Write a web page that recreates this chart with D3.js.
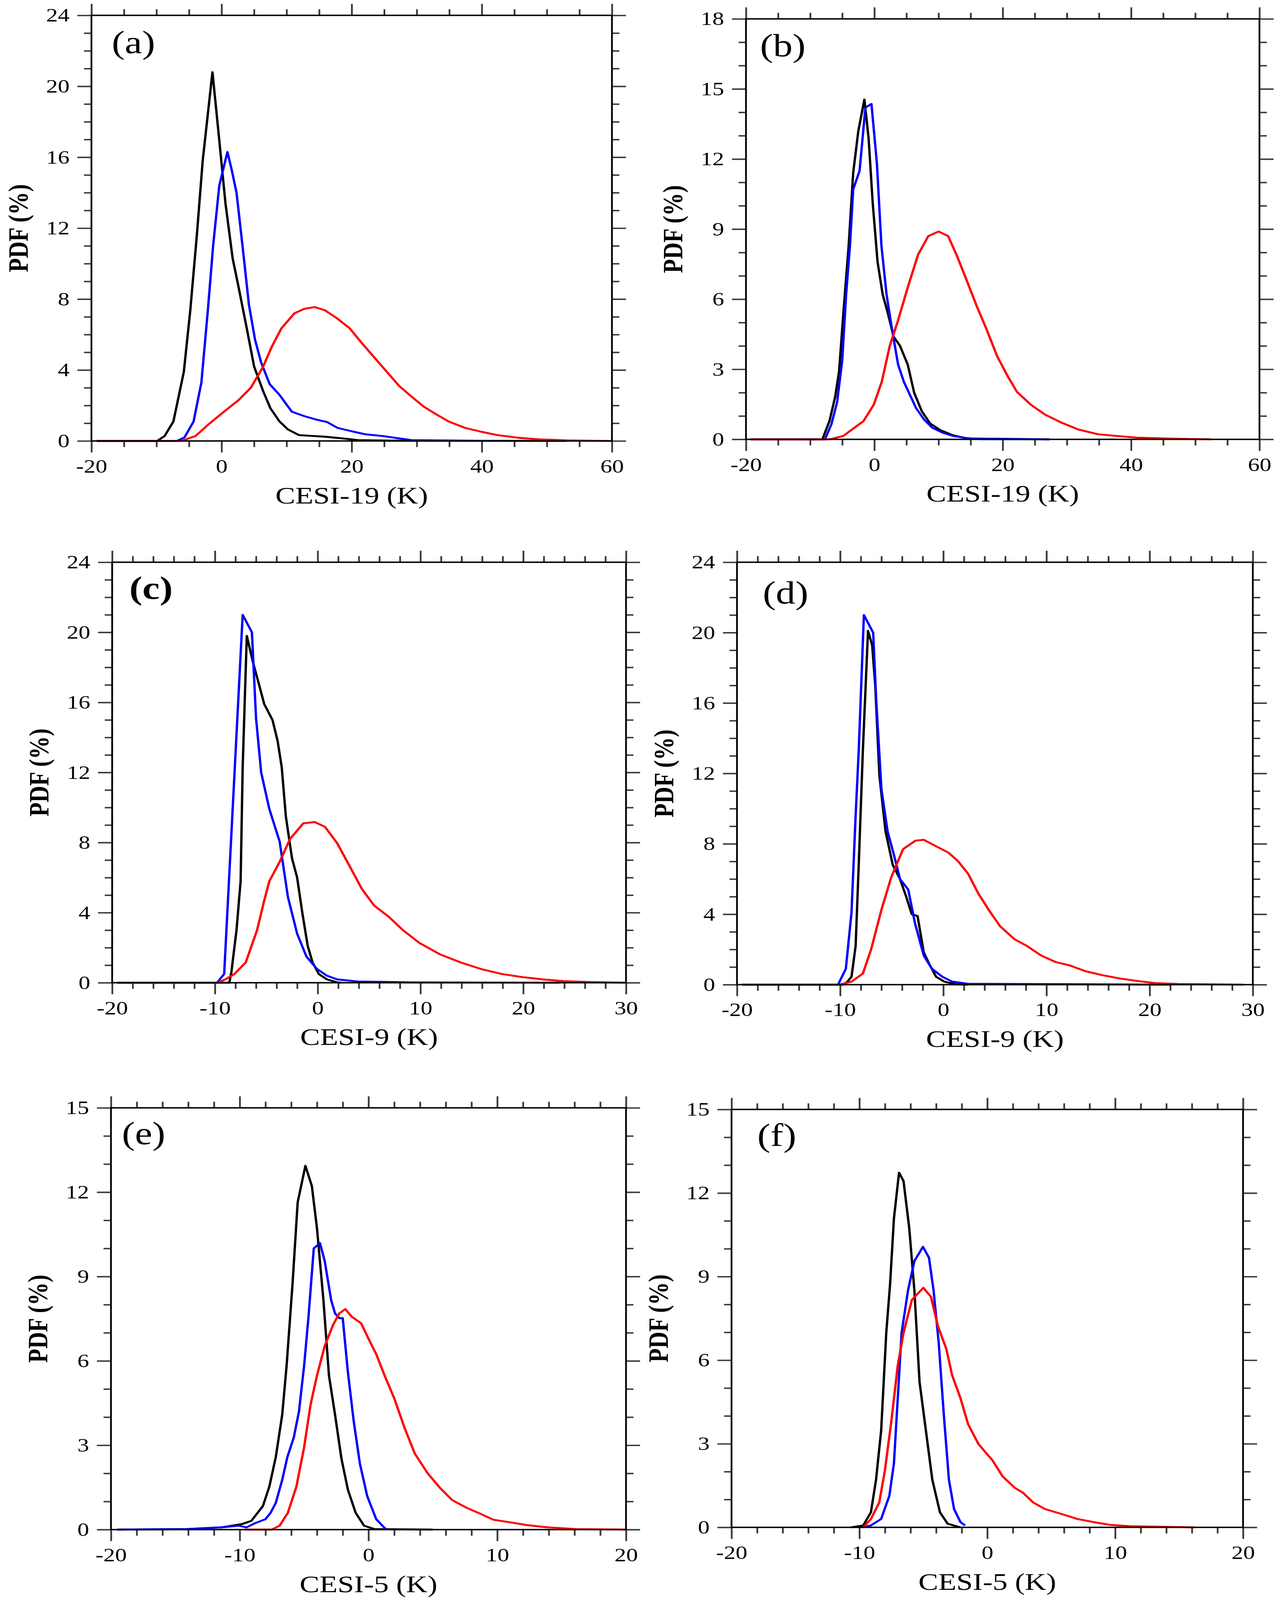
<!DOCTYPE html>
<html>
<head>
<meta charset="utf-8">
<script src="https://cdn.jsdelivr.net/npm/d3@7"></script>
<style>
  html, body { margin: 0; padding: 0; background: #fff; overflow: hidden; }
  svg { display: block; }
</style>
</head>
<body>
<div id="chart"></div>
<script>
// PDF curves, [K, %]
const aBlack = [[-19.2,0],[-9.9,0],[-8.75,0.28],[-7.4,1.1],[-5.8,3.9],[-4.8,7.4],[-3.8,11.6],[-2.9,15.8],[-1.4,20.8],[-0.5,17.5],[0.6,13.4],[1.7,10.3],[2.6,8.7],[3.9,6.3],[5.0,4.2],[6.4,2.8],[7.5,1.85],[8.9,1.1],[10.2,0.65],[11.9,0.33],[15.9,0.24],[18.4,0.15],[21,0.05],[26,0.02],[53,0]]
const aBlue = [[-19.2,0],[-6.9,0],[-5.7,0.2],[-4.3,1.1],[-3.1,3.3],[-2.1,7.4],[-1.3,11],[-0.35,14.4],[0.9,16.3],[1.55,15.3],[2.3,14.0],[3.25,10.9],[4.2,7.7],[5.15,5.7],[6.1,4.4],[7.4,3.2],[8.9,2.6],[10.8,1.65],[12.7,1.4],[14.6,1.2],[16.2,1.07],[17.8,0.74],[20.3,0.52],[22.2,0.37],[24.7,0.28],[26.6,0.18],[29.2,0.05],[42.4,0]]
const aRed = [[-19.2,0],[-6.2,0],[-4.0,0.28],[-1.8,1.0],[0.7,1.75],[2.6,2.3],[4.5,3.0],[6.4,4.2],[7.7,5.3],[9.2,6.35],[11.2,7.2],[12.7,7.45],[14.3,7.55],[15.9,7.37],[17.8,6.9],[19.7,6.35],[21.6,5.5],[23.5,4.7],[25.4,3.9],[27.3,3.1],[29.2,2.5],[31.1,1.93],[33.0,1.5],[34.9,1.1],[37.4,0.74],[39.9,0.52],[42.4,0.33],[45.6,0.18],[48.8,0.09],[53.2,0.03],[60,0]]

const bBlack = [[-19.3,0],[-8.1,0],[-7.0,0.78],[-6.1,1.83],[-5.5,2.9],[-4.8,5.5],[-4.0,8.3],[-3.3,11.4],[-2.5,13.2],[-1.55,14.55],[-0.9,12.9],[-0.25,10.1],[0.5,7.6],[1.3,6.2],[2.1,5.4],[3.0,4.4],[4.0,4.0],[5.2,3.2],[6.2,2.0],[7.4,1.2],[8.7,0.68],[10.3,0.39],[12.2,0.18],[14.1,0.06],[16.6,0.01],[27.3,0]]
const bBlue = [[-19.3,0],[-7.7,0],[-6.7,0.64],[-5.8,1.6],[-5.0,3.4],[-4.4,6.2],[-3.8,8.3],[-3.3,10.7],[-2.3,11.5],[-1.4,14.2],[-0.45,14.36],[0.4,11.8],[1.1,8.3],[1.9,6.2],[2.7,4.8],[3.7,3.2],[4.6,2.46],[5.55,1.9],[6.5,1.34],[7.75,0.85],[9.0,0.5],[10.6,0.29],[12.2,0.15],[14.7,0.04],[27.3,0]]
const bRed = [[-19.3,0],[-7.0,0],[-4.8,0.15],[-3.6,0.4],[-1.7,0.78],[-0.1,1.48],[1.15,2.46],[2.4,4.0],[3.7,5.1],[5.2,6.5],[6.8,7.9],[8.4,8.7],[10.0,8.9],[11.5,8.7],[12.8,7.9],[14.4,6.8],[15.9,5.74],[17.5,4.7],[19.1,3.58],[20.7,2.74],[22.2,2.04],[24.4,1.48],[26.6,1.06],[29.2,0.71],[31.7,0.43],[34.8,0.22],[38.0,0.14],[41.1,0.07],[46.2,0.03],[52.5,0]]

const cBlack = [[-19.5,0],[-8.6,0],[-8.4,0.6],[-7.9,3.0],[-7.5,5.8],[-7.3,12.3],[-6.9,19.8],[-6.3,18.3],[-5.7,17.0],[-5.2,15.9],[-4.4,15.0],[-3.9,13.8],[-3.5,12.3],[-3.1,9.5],[-2.5,7.1],[-2.0,6.0],[-1.5,4.0],[-0.97,2.1],[-0.5,1.16],[0.1,0.5],[0.9,0.19],[1.9,0.02],[2.3,0]]
const cBlue = [[-19.5,0],[-9.8,0],[-9.1,0.5],[-7.3,21.0],[-6.4,20.0],[-6.0,15.1],[-5.5,12.0],[-4.7,9.9],[-3.7,8.05],[-2.9,4.9],[-2.0,2.8],[-1.1,1.5],[-0.1,0.8],[0.9,0.4],[1.9,0.19],[3.9,0.07],[9.1,0.02],[23.5,0]]
const cRed = [[-19.5,0],[-9.7,0],[-8.9,0.22],[-8.1,0.5],[-7.0,1.16],[-5.9,3.0],[-5.2,4.7],[-4.7,5.8],[-3.7,6.9],[-2.7,8.2],[-1.4,9.1],[-0.3,9.17],[0.7,8.9],[1.9,7.96],[3.1,6.66],[4.3,5.35],[5.5,4.4],[6.9,3.77],[8.3,3.0],[9.9,2.27],[11.9,1.62],[13.9,1.16],[15.9,0.78],[17.9,0.5],[19.9,0.32],[21.9,0.19],[23.9,0.09],[26.4,0.04],[30,0]]

const dBlack = [[-19.5,0],[-9.7,0],[-9.3,0.17],[-8.9,0.45],[-8.5,2.2],[-8.2,6.8],[-7.8,13.3],[-7.3,20.1],[-6.9,19.3],[-6.6,17.0],[-6.2,11.9],[-5.6,8.7],[-4.9,6.8],[-4.2,6.0],[-3.6,5.0],[-3.06,4.0],[-2.5,3.9],[-1.9,1.84],[-1.3,1.1],[-0.7,0.45],[0.1,0.17],[1.25,0.02],[2.4,0]]
const dBlue = [[-19.5,0],[-10.2,0],[-9.45,0.9],[-8.9,4.1],[-8.5,9.6],[-8.2,13.3],[-7.7,21.0],[-6.8,20.0],[-6.5,16.1],[-6.0,11.1],[-5.4,8.7],[-4.8,7.4],[-4.2,6.0],[-3.4,5.4],[-2.75,3.5],[-1.9,1.65],[-1.1,0.9],[-0.1,0.45],[0.86,0.17],[2.4,0.05],[22.0,0]]
const dRed = [[-19.5,0],[-10.1,0],[-8.9,0.17],[-7.8,0.63],[-7.0,2.0],[-6.0,4.25],[-5.05,6.1],[-3.9,7.7],[-2.7,8.18],[-1.9,8.23],[-0.7,7.86],[0.5,7.5],[1.45,7.0],[2.4,6.3],[3.4,5.17],[4.4,4.25],[5.5,3.32],[6.9,2.58],[8.1,2.2],[9.5,1.65],[10.9,1.28],[12.2,1.1],[13.8,0.76],[15.4,0.54],[17.1,0.35],[18.9,0.2],[20.5,0.09],[22.8,0.04],[29.1,0]]

const eBlack = [[-19.5,0],[-13.9,0.02],[-11.4,0.08],[-9.8,0.2],[-9.1,0.31],[-8.2,0.84],[-7.7,1.53],[-7.2,2.58],[-6.7,4.09],[-6.36,5.83],[-5.9,8.74],[-5.5,11.64],[-4.9,12.94],[-4.4,12.22],[-4.0,10.71],[-3.5,8.16],[-3.07,5.48],[-2.6,4.09],[-2.1,2.52],[-1.6,1.42],[-1.0,0.6],[-0.35,0.14],[0.45,0.02],[5.0,0]]
const eBlue = [[-19.5,0],[-14.2,0.02],[-11.4,0.08],[-10.1,0.14],[-9.46,0.08],[-8.8,0.23],[-8.0,0.37],[-7.6,0.6],[-7.2,0.95],[-6.7,1.77],[-6.3,2.58],[-5.8,3.28],[-5.4,4.2],[-5.0,5.83],[-4.66,7.57],[-4.25,10.0],[-3.77,10.19],[-3.4,9.55],[-2.9,8.16],[-2.6,7.69],[-2.27,7.52],[-2.0,7.52],[-1.6,5.6],[-1.15,3.86],[-0.67,2.35],[-0.1,1.19],[0.6,0.37],[1.25,0.06],[1.4,0]]
const eRed = [[-9.6,0],[-7.5,0],[-6.9,0.14],[-6.26,0.6],[-5.6,1.53],[-5.0,2.93],[-4.5,4.44],[-4.0,5.48],[-3.4,6.53],[-2.75,7.28],[-2.27,7.69],[-1.8,7.84],[-1.3,7.57],[-0.58,7.34],[0.03,6.76],[0.6,6.24],[1.25,5.48],[2.0,4.67],[2.8,3.62],[3.6,2.7],[4.6,2.0],[5.56,1.48],[6.5,1.05],[7.6,0.78],[8.75,0.55],[9.7,0.35],[11.0,0.26],[12.3,0.16],[13.9,0.08],[16.1,0.02],[20,0]]

const fBlack = [[-10.67,0],[-9.7,0.07],[-9.1,0.54],[-8.7,1.71],[-8.3,3.47],[-7.9,6.98],[-7.6,8.74],[-7.3,11.09],[-6.9,12.73],[-6.55,12.43],[-6.1,10.73],[-5.7,8.5],[-5.3,5.23],[-4.8,3.47],[-4.3,1.71],[-3.7,0.54],[-3.1,0.13],[-2.1,0]]
const fBlue = [[-9.8,0],[-9.1,0.07],[-8.3,0.3],[-7.66,1.13],[-7.3,2.3],[-7.0,4.64],[-6.7,6.98],[-6.2,8.5],[-5.7,9.56],[-5.03,10.07],[-4.56,9.68],[-4.2,8.5],[-3.8,6.63],[-3.4,4.05],[-3.0,1.71],[-2.6,0.66],[-2.1,0.19],[-1.74,0.07]]
const fRed = [[-9.7,0],[-9.1,0.3],[-8.45,0.89],[-8.0,2.06],[-7.5,3.82],[-7.0,5.81],[-6.55,6.98],[-5.9,8.16],[-5.0,8.6],[-4.4,8.27],[-3.86,7.22],[-3.2,6.4],[-2.75,5.46],[-2.1,4.64],[-1.5,3.7],[-0.7,3.0],[-0.06,2.65],[0.4,2.41],[1.2,1.83],[2.15,1.42],[2.8,1.24],[3.6,0.89],[4.5,0.66],[5.8,0.48],[7.05,0.3],[8.3,0.19],[9.6,0.09],[11.2,0.04],[16.2,0]]

// axis ranges and tick labels
const xTicks19 = [-20, 0, 20, 40, 60]
const xTicks9 = [-20, -10, 0, 10, 20, 30]
const xTicks5 = [-20, -10, 0, 10, 20]
const yTicks24 = [0, 4, 8, 12, 16, 20, 24]
const yTicks18 = [0, 3, 6, 9, 12, 15, 18]
const yTicks15 = [0, 3, 6, 9, 12, 15]
const panelTags = ['(a)', '(b)', '(c)', '(d)', '(e)', '(f)']
const xTitles = ['CESI-19 (K)', 'CESI-19 (K)', 'CESI-9 (K)', 'CESI-9 (K)', 'CESI-5 (K)', 'CESI-5 (K)']
const yTitle = 'PDF (%)'
const seriesColors = ['#000000', '#0000ff', '#ff0000']

// panel frames in page pixels of the 3273x5000 figure
const panels = [
  { box: [234, 1566, 48, 1378], xt: xTicks19, xMinor: 5, yt: yTicks24, series: [aBlack, aBlue, aRed], tag: [52, 118], bold: false },
  { box: [1909, 3223, 59, 1373], xt: xTicks19, xMinor: 5, yt: yTicks18, series: [bBlack, bBlue, bRed], tag: [36, 117], bold: false },
  { box: [287, 1602, 1757, 3071], xt: xTicks9, xMinor: 2, yt: yTicks24, series: [cBlack, cBlue, cRed], tag: [44, 114], bold: true },
  { box: [1886, 3206, 1757, 3077], xt: xTicks9, xMinor: 2, yt: yTicks24, series: [dBlack, dBlue, dRed], tag: [66, 129], bold: false },
  { box: [284, 1602, 3462, 4780], xt: xTicks5, xMinor: 2, yt: yTicks15, series: [eBlack, eBlue, eRed], tag: [28, 114], bold: false },
  { box: [1872, 3181, 3467, 4773], xt: xTicks5, xMinor: 2, yt: yTicks15, series: [fBlack, fBlue, fRed], tag: [66, 114], bold: false },
]

const W = 3273, H = 5000
const serif = '"Liberation Serif", "DejaVu Serif", serif'
const majorLen = 36, minorLen = 19

// the window may be shorter than the figure, so fit the whole figure into it
const svg = d3.select('#chart').append('svg')
  .attr('width', window.innerWidth || W)
  .attr('height', window.innerHeight || H)
  .attr('viewBox', `0 0 ${W} ${H}`)
  .attr('preserveAspectRatio', 'none')
svg.append('rect').attr('width', W).attr('height', H).attr('fill', '#fff')

function minorValues(lo, hi, step) {
  const out = []
  for (let v = lo; v <= hi + 1e-9; v += step) out.push(+v.toFixed(6))
  return out
}

panels.forEach((p, i) => {
  const [x0, x1, y0, y1] = p.box
  const xDom = [p.xt[0], p.xt[p.xt.length - 1]]
  const yDom = [p.yt[0], p.yt[p.yt.length - 1]]
  const x = d3.scaleLinear().domain(xDom).range([x0, x1])
  const y = d3.scaleLinear().domain(yDom).range([y1, y0])
  const xm = minorValues(xDom[0], xDom[1], p.xMinor).filter((v) => !p.xt.includes(v))
  const ym = minorValues(yDom[0], yDom[1], 1).filter((v) => !p.yt.includes(v))

  const g = svg.append('g').attr('class', 'panel')

  // curves
  const line = d3.line().x((d) => x(d[0])).y((d) => y(d[1]))
  g.append('g')
    .selectAll('path')
    .data(p.series)
    .enter()
    .append('path')
    .attr('d', (d) => line(d))
    .attr('fill', 'none')
    .attr('stroke', (d, k) => seriesColors[k])
    .attr('stroke-width', 6)
    .attr('stroke-linejoin', 'round')

  // ticks on all four sides, pointing outward
  const sides = [
    [d3.axisBottom(x), `translate(0,${y1})`, p.xt, xm, true],
    [d3.axisTop(x), `translate(0,${y0})`, p.xt, xm, false],
    [d3.axisLeft(y), `translate(${x0},0)`, p.yt, ym, true],
    [d3.axisRight(y), `translate(${x1},0)`, p.yt, ym, false],
  ]
  sides.forEach(([axis, tr, major, minor, labelled]) => {
    const gm = g.append('g').attr('transform', tr)
      .call(axis.tickValues(minor).tickSize(minorLen).tickSizeOuter(0).tickFormat(''))
    gm.select('.domain').remove()
    const gM = g.append('g').attr('transform', tr)
      .call(axis.tickValues(major).tickSize(majorLen).tickSizeOuter(0).tickPadding(20)
        .tickFormat(labelled ? d3.format('d') : ''))
    gM.select('.domain').remove()
    g.selectAll('.tick line').attr('stroke', '#3a3a3a').attr('stroke-width', 4.5)
    gM.selectAll('text')
      .attr('font-family', serif)
      .attr('font-size', 60)
      .attr('fill', '#000')
  })
  g.selectAll('.tick text').each(function () {
    const t = d3.select(this)
    t.text(t.text().replace('\u2212', '-'))
  })

  // frame
  g.append('rect')
    .attr('x', x0).attr('y', y0)
    .attr('width', x1 - x0).attr('height', y1 - y0)
    .attr('fill', 'none')
    .attr('stroke', '#000')
    .attr('stroke-width', 4.5)

  // titles
  g.append('text')
    .attr('x', (x0 + x1) / 2)
    .attr('y', y1 + 195)
    .attr('text-anchor', 'middle')
    .attr('font-family', serif)
    .attr('font-size', 76)
    .text(xTitles[i])

  g.append('text')
    .attr('transform', `translate(${x0 - 188},${(y0 + y1) / 2}) rotate(-90)`)
    .attr('text-anchor', 'middle')
    .attr('dy', '0.35em')
    .attr('font-family', serif)
    .attr('font-weight', 'bold')
    .attr('font-size', 72)
    .text(yTitle)

  g.append('text')
    .attr('x', x0 + p.tag[0])
    .attr('y', y0 + p.tag[1])
    .attr('font-family', serif)
    .attr('font-weight', p.bold ? 'bold' : 'normal')
    .attr('font-size', 100)
    .text(panelTags[i])
})
</script>
</body>
</html>
